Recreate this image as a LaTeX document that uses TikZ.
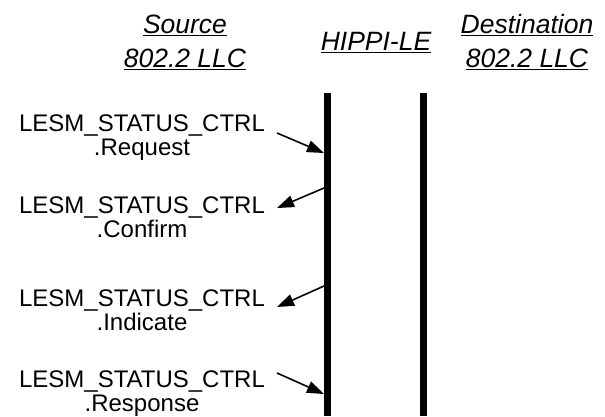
\documentclass[tikz,border=0pt]{standalone}
\usepackage{fontspec}
\setmainfont{Liberation Sans}
\usetikzlibrary{arrows.meta}
\newsavebox{\hdrbox}
\newcommand{\hdrline}[1]{\sbox{\hdrbox}{#1}\leavevmode\rlap{\raisebox{-3.4pt}{\rule{\wd\hdrbox}{1.2pt}}}\usebox{\hdrbox}}
\begin{document}
\begin{tikzpicture}[x=1pt,y=-1pt,
  hdr/.style={align=center,anchor=base,inner sep=0pt,font=\fontsize{26.5}{34}\selectfont\itshape},
  prim/.style={align=center,anchor=base,inner sep=0pt,font=\fontsize{24}{23.5}\selectfont},
  lifeline/.style={fill=black,inner sep=0pt,minimum width=7pt,minimum height=323pt,anchor=north},
  msg/.style={line width=1.6pt,-{Triangle[length=17pt 0,width=12pt 0]}}]
\useasboundingbox (0,0) rectangle (605,416);
% headers (anchor = baseline of the last line)
\node[hdr] (src) at (185,67) {\hdrline{Source}\\\hdrline{802.2 LLC}};
\node[hdr] (hip) at (376,50) {\hdrline{HIPPI-LE}};
\node[hdr] (dst) at (527,67) {\hdrline{Destination}\\\hdrline{802.2 LLC}};
% lifelines
\node[lifeline] (lbar) at (327.5,93) {};
\node[lifeline] (rbar) at (423.5,93) {};
% primitives
\node[prim] (req) at (142,155) {LESM\_STATUS\_CTRL\\.Request};
\node[prim] (con) at (142,237) {LESM\_STATUS\_CTRL\\.Confirm};
\node[prim] (ind) at (142,330) {LESM\_STATUS\_CTRL\\.Indicate};
\node[prim] (rsp) at (142,411) {LESM\_STATUS\_CTRL\\.Response};
% arrow ends
\coordinate (s1) at (277,133);
\coordinate (t1) at (324,153);
\coordinate (s2) at (324,188);
\coordinate (t2) at (277,208);
\coordinate (s3) at (324,286);
\coordinate (t3) at (277,307);
\coordinate (s4) at (277,373);
\coordinate (t4) at (324,394);
\draw[msg] (s1) -- (t1);
\draw[msg] (s2) -- (t2);
\draw[msg] (s3) -- (t3);
\draw[msg] (s4) -- (t4);
\end{tikzpicture}
\end{document}
